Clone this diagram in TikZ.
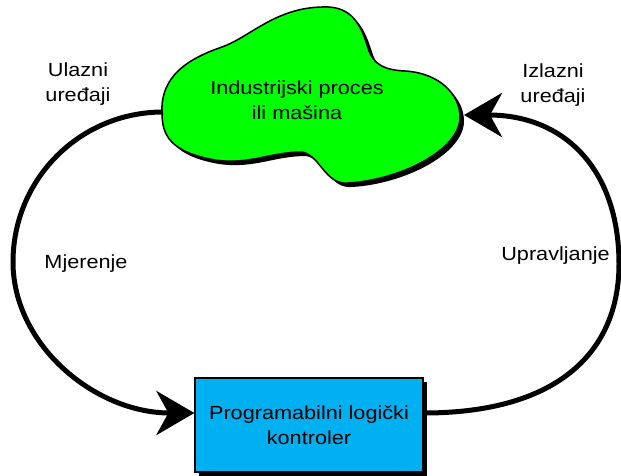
\documentclass[tikz,border=0pt]{standalone}
\usepackage{fontspec}
\setmainfont{Liberation Sans}[FakeStretch=1.14]
\usetikzlibrary{arrows.meta,shadows}
\definecolor{procgreen}{RGB}{0,255,0}
\definecolor{plcblue}{RGB}{0,176,240}
\tikzset{
  cloudshape/.style={insert path={
    (162,113) .. controls (160,75) and (190,58) .. (222,47)
    .. controls (250,37) and (275,8) .. (322,7)
    .. controls (355,5) and (362,30) .. (368,48)
    .. controls (373,65) and (385,70) .. (405,71)
    .. controls (440,73) and (460,95) .. (460,117)
    .. controls (460,150) and (400,180) .. (348,183)
    .. controls (325,185) and (320,155) .. (302,152)
    .. controls (270,152) and (250,165) .. (215,160)
    .. controls (170,152) and (162,135) .. (162,113) -- cycle
  }},
}
\begin{document}
\begin{tikzpicture}[x=1pt,y=-1pt,
  lbl/.style={font=\fontsize{19}{25}\selectfont, align=center, inner sep=0pt},
  flow/.style={line width=5pt, -{Stealth[length=38pt,width=44pt,inset=12pt]}},
  plcbox/.style={lbl, draw=black, line width=1.2pt, fill=plcblue,
    minimum width=228pt, minimum height=94pt,
    drop shadow={shadow xshift=4pt, shadow yshift=-4pt, fill=black, opacity=1}},
]
\clip (0,0) rectangle (621,475);
\fill[white] (0,0) rectangle (621,475);

% process cloud with its shadow
\fill[black, shift={(4,4)}, cloudshape];
\filldraw[fill=procgreen, draw=black, line width=1.5pt, cloudshape];
\node[lbl] (proc) at (297,100) {Industrijski proces\\ili mašina};
\coordinate (inW) at (163,112);
\coordinate (outE) at (464,115);

% controller
\node[plcbox] (plc) at (309,425) {Programabilni logički\\kontroler};

% measurement loop (left) and control loop (right)
\draw[flow] (inW) .. controls (80,112) and (13,179) .. (13,262)
  .. controls (13,345) and (95,413) .. ([yshift=12pt]plc.west);
\draw[flow] ([yshift=12pt]plc.east) .. controls (560,413) and (619,350) .. (619,264)
  .. controls (619,170) and (565,115) .. (outE);

% labels
\node[lbl] (inlbl) at (78,84.5) {Ulazni\\uređaji};
\node[lbl] (outlbl) at (553,85.5) {Izlazni\\uređaji};
\node[lbl, anchor=base] (meas) at (86,268) {Mjerenje};
\node[lbl, anchor=base] (ctrl) at (555.5,260) {Upravljanje};
\end{tikzpicture}
\end{document}
